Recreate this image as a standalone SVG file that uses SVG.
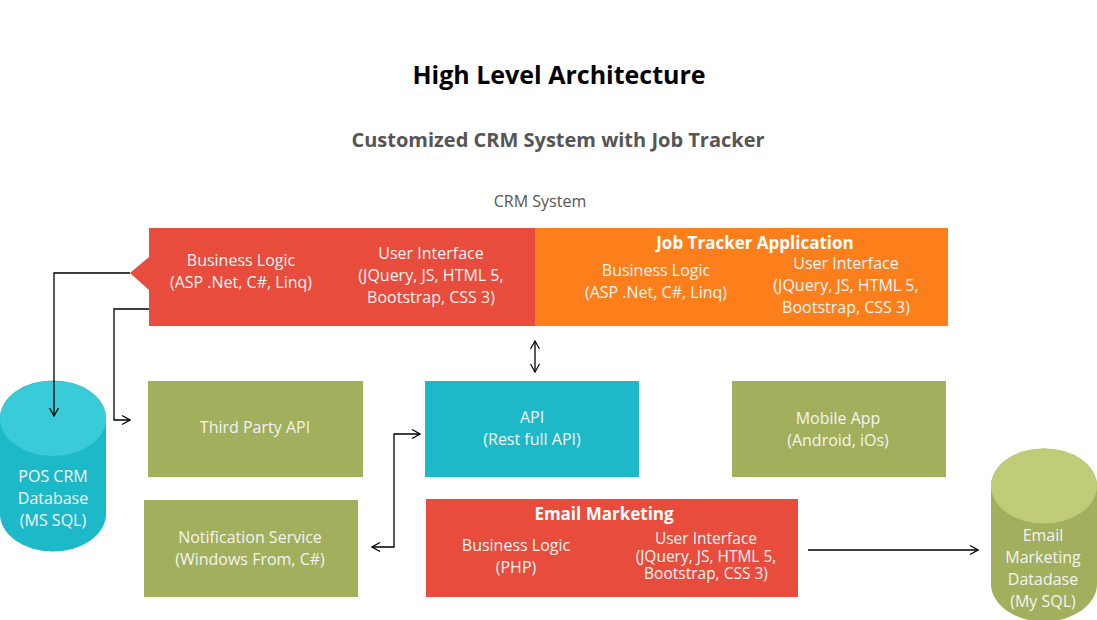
<svg xmlns="http://www.w3.org/2000/svg" width="1097" height="620" viewBox="0 0 1097 620">
<defs>
<style>
text{font-family:"Open Sans","Noto Sans","Liberation Sans",sans-serif;}
.t{fill:#f4f4f4;font-size:16px;text-anchor:middle;}
.s{font-size:15.5px;}
.b{font-weight:bold;fill:#ffffff;font-size:17px;}
.red{fill:#E74C3C;}
.org{fill:#FD7F1B;}
.grn{fill:#A2AF5C;}
.teal{fill:#1DB9C8;}
.ln{fill:none;stroke:#000;stroke-width:1.3;}
</style>
<marker id="ah" viewBox="0 0 10 10" refX="9" refY="5" markerWidth="10" markerHeight="10" markerUnits="userSpaceOnUse" orient="auto-start-reverse">
<path d="M1,0.5 L9,5 L1,9.5" fill="none" stroke="#000" stroke-width="1.2"/>
</marker>
</defs>
<rect width="1097" height="620" fill="#fff"/>
<text x="559" y="84" font-size="25" font-weight="bold" text-anchor="middle" fill="#000">High Level Architecture</text>
<text x="558" y="147" font-size="20" font-weight="bold" text-anchor="middle" fill="#555">Customized CRM System with Job Tracker</text>
<text x="540" y="207" font-size="16" text-anchor="middle" fill="#555">CRM System</text>

<g id="crm">
<path class="red" d="M149,228 H536 V326 H149 V290 L130,273 L149,257 Z"/>
<text class="t" x="241" y="266">Business Logic</text>
<text class="t" x="241" y="288">(ASP .Net, C#, Linq)</text>
<text class="t" x="431" y="259">User Interface</text>
<text class="t" x="431" y="281">(JQuery, JS, HTML 5,</text>
<text class="t" x="431" y="303">Bootstrap, CSS 3)</text>
</g>
<g id="jobtracker">
<rect class="org" x="535" y="228" width="413" height="98"/>
<text class="t b" x="755" y="249">Job Tracker Application</text>
<text class="t" x="656" y="276">Business Logic</text>
<text class="t" x="656" y="298">(ASP .Net, C#, Linq)</text>
<text class="t" x="846" y="269">User Interface</text>
<text class="t" x="846" y="291">(JQuery, JS, HTML 5,</text>
<text class="t" x="846" y="313">Bootstrap, CSS 3)</text>
</g>
<g id="poscrm">
<path fill="#1DB9C8" d="M0,418 A53,37.5 0 0 1 106,418 V514 A53,37.5 0 0 1 0,514 Z"/>
<ellipse cx="53" cy="418.5" rx="53" ry="37.5" fill="#3ACBD9"/>
<text class="t" x="53" y="482">POS CRM</text>
<text class="t" x="53" y="504">Database</text>
<text class="t" x="53" y="526">(MS SQL)</text>
</g>
<g id="thirdparty">
<rect class="grn" x="148" y="381" width="215" height="96"/>
<text class="t" x="255" y="433">Third Party API</text>
</g>
<g id="api">
<rect class="teal" x="425" y="381" width="214" height="96"/>
<text class="t" x="532" y="423">API</text>
<text class="t" x="532" y="445">(Rest full API)</text>
</g>
<g id="mobile">
<rect class="grn" x="732" y="381" width="214" height="96"/>
<text class="t" x="838" y="424">Mobile App</text>
<text class="t" x="838" y="446">(Android, iOs)</text>
</g>
<g id="notification">
<rect class="grn" x="144" y="500" width="214" height="97"/>
<text class="t" x="250" y="543">Notification Service</text>
<text class="t" x="250" y="565">(Windows From, C#)</text>
</g>
<g id="email">
<rect class="red" x="426" y="499" width="372" height="98"/>
<text class="t b" x="604" y="520">Email Marketing</text>
<text class="t" x="516" y="551">Business Logic</text>
<text class="t" x="516" y="573">(PHP)</text>
<text class="t s" x="706" y="544">User Interface</text>
<text class="t s" x="706" y="561.5">(JQuery, JS, HTML 5,</text>
<text class="t s" x="706" y="579">Bootstrap, CSS 3)</text>
</g>
<g id="emaildb">
<path fill="#A2AF5C" d="M991,486 A53,37.5 0 0 1 1097,486 V584 A53,37.5 0 0 1 991,584 Z"/>
<ellipse cx="1044" cy="486" rx="53" ry="37.5" fill="#C0CC78"/>
<text class="t" x="1043" y="541">Email</text>
<text class="t" x="1043" y="563">Marketing</text>
<text class="t" x="1043" y="585">Datadase</text>
<text class="t" x="1043" y="607">(My SQL)</text>
</g>
<g id="connectors">
<path class="ln" d="M130,273 H54 V416" marker-end="url(#ah)"/>
<path class="ln" d="M149,309 H114 V420 H130" marker-end="url(#ah)"/>
<path class="ln" d="M535,341 V372" marker-start="url(#ah)" marker-end="url(#ah)"/>
<path class="ln" d="M420,434 H394 V547 H372" marker-start="url(#ah)" marker-end="url(#ah)"/>
<path class="ln" d="M808,550 H978" marker-end="url(#ah)"/>
</g>
</svg>
